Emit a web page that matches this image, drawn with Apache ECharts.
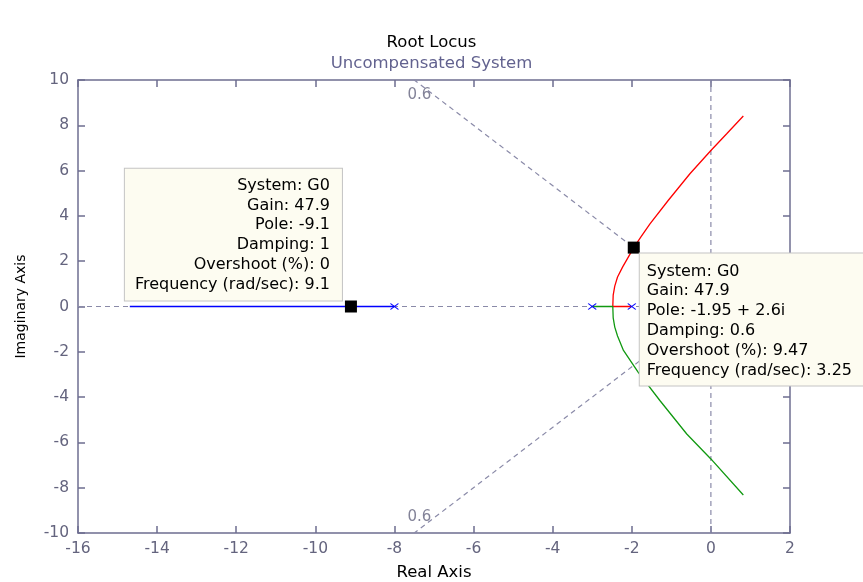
<!DOCTYPE html>
<html>
<head>
<meta charset="utf-8">
<script src="https://cdn.jsdelivr.net/npm/echarts@6/dist/echarts.min.js"></script>
<style>
  html, body { margin: 0; padding: 0; background: #ffffff; }
  #chart { width: 863px; height: 582px; }
</style>
</head>
<body>
<div id="chart"></div>
<script>
// Open-loop poles of G0
const poles = [-8, -3, -2];

// Root locus branches (real part, imaginary part)
const blueRe = [-8, -14.69];
const blueIm = [0, 0];
const redRe = [-2.02, -2.48, -2.47, -2.43, -2.36, -2.23, -1.95, -1.76, -1.54, -1.08, -0.53, 0.0, 0.40, 0.82];
const redIm = [0, 0, 0.5, 0.9, 1.3, 1.75, 2.6, 3.1, 3.65, 4.68, 5.86, 6.89, 7.63, 8.41];
const greenRe = [-3.0, -2.48, -2.47, -2.43, -2.36, -2.21, -1.84, -1.29, -0.61, 0.0, 0.82];
const greenIm = [0, 0, -0.5, -0.91, -1.3, -1.94, -2.9, -4.15, -5.63, -6.73, -8.32];

// sgrid lines: zeta = 0 (imag axis), zeta = 1 (neg. real axis), zeta = 0.6 rays
const zetaZeroLine = [[0, -10], [0, 10]];
const zetaOneLine = [[-16, 0], [0, 0]];
const zeta06Upper = [[0, 0], [-7.5, 10]];
const zeta06Lower = [[0, 0], [-7.5, -10]];
const zetaLabelText = ['0.6', '0.6'];
const zetaLabelAt = [[-7.37, 9.33], [-7.37, -9.28]];

// Data tips
const tipPoint = [[-9.1, 0], [-1.95, 2.6]];
const tipSystem = ['G0', 'G0'];
const tipGain = ['47.9', '47.9'];
const tipPole = ['-9.1', '-1.95 + 2.6i'];
const tipDamping = ['1', '0.6'];
const tipOvershoot = ['0', '9.47'];
const tipFrequency = ['9.1', '3.25'];

// Axis ticks
const xTicks = { min: -16, max: 2, step: 2 };
const yTicks = { min: -10, max: 10, step: 2 };

const FONT = 'DejaVu Sans';
const axisColor = '#6e6e90';
const tickTextColor = '#64647e';
const gridDash = '#8a8aa8';

function pairs(xs, ys) { return xs.map((x, i) => [x, ys[i]]); }

function tipText(i) {
  return [
    'System: ' + tipSystem[i],
    'Gain: ' + tipGain[i],
    'Pole: ' + tipPole[i],
    'Damping: ' + tipDamping[i],
    'Overshoot (%): ' + tipOvershoot[i],
    'Frequency (rad/sec): ' + tipFrequency[i]
  ].join('\n');
}

const tipLabelBase = {
  show: true,
  fontFamily: FONT,
  fontSize: 16,
  lineHeight: 19.8,
  color: '#000000',
  backgroundColor: '#fdfcf1',
  borderColor: '#c4c4c4',
  borderWidth: 1
};

function dashedSeries(points) {
  return {
    type: 'line', data: points, symbol: 'none', silent: true, z: 1,
    lineStyle: { color: gridDash, width: 1.2, type: [5, 4] }
  };
}

function axisPair(isX, t, withLabels, pos) {
  return {
    type: 'value', min: t.min, max: t.max, interval: t.step, position: pos,
    axisLine: { show: true, onZero: false, lineStyle: { color: axisColor, width: 1.5 } },
    axisTick: { show: true, inside: true, length: 7, lineStyle: { color: axisColor, width: 1.5 } },
    splitLine: { show: false },
    axisLabel: withLabels ? {
      show: true, fontFamily: FONT, fontSize: 15.5, color: tickTextColor,
      margin: isX ? 8 : 9
    } : { show: false }
  };
}

const chart = echarts.init(document.getElementById('chart'), null, { renderer: 'canvas' });

const xBottom = axisPair(true, xTicks, true, 'bottom');
xBottom.name = 'Real Axis';
xBottom.nameLocation = 'middle';
xBottom.nameGap = 31;
xBottom.nameTextStyle = { fontFamily: FONT, fontSize: 16.5, color: '#000000' };

const yLeft = axisPair(false, yTicks, true, 'left');
yLeft.name = 'Imaginary Axis';
yLeft.nameLocation = 'middle';
yLeft.nameGap = 50;
yLeft.nameTextStyle = { fontFamily: FONT, fontSize: 14, color: '#000000' };

chart.setOption({
  animation: false,
  backgroundColor: '#ffffff',
  title: {
    text: 'Root Locus',
    subtext: 'Uncompensated System',
    left: 'center',
    top: 29,
    itemGap: 4,
    textStyle: { fontFamily: FONT, fontSize: 16.5, fontWeight: 'normal', color: '#000000' },
    subtextStyle: { fontFamily: FONT, fontSize: 16.5, color: '#62628f' }
  },
  grid: { left: 78, right: 73, top: 80, bottom: 49, containLabel: false, outerBoundsMode: 'none' },
  xAxis: [xBottom, axisPair(true, xTicks, false, 'top')],
  yAxis: [yLeft, axisPair(false, yTicks, false, 'right')],
  series: [
    dashedSeries(zetaOneLine),
    dashedSeries(zetaZeroLine),
    dashedSeries(zeta06Upper),
    dashedSeries(zeta06Lower),
    {
      type: 'scatter', silent: true, z: 2, symbolSize: 0,
      data: zetaLabelAt.map((p, i) => ({ value: p, name: zetaLabelText[i] })),
      label: {
        show: true, position: 'inside', formatter: '{b}',
        fontFamily: FONT, fontSize: 15, color: tickTextColor
      }
    },
    {
      name: 'branch1', type: 'line', data: pairs(blueRe, blueIm), symbol: 'none', z: 3,
      lineStyle: { color: '#0000ff', width: 1.3 }
    },
    {
      name: 'branch2', type: 'line', data: pairs(redRe, redIm), symbol: 'none', z: 3,
      lineStyle: { color: '#ff0000', width: 1.3 }
    },
    {
      name: 'branch3', type: 'line', data: pairs(greenRe, greenIm), symbol: 'none', z: 3,
      lineStyle: { color: '#119911', width: 1.3 }
    },
    {
      name: 'poles', type: 'scatter', z: 4,
      data: poles.map(p => [p, 0]),
      symbol: 'path://M0,0L10,10M10,0L0,10',
      symbolSize: [8, 6],
      itemStyle: { color: 'none', borderColor: '#0000ff', borderWidth: 1.2, opacity: 1 }
    },
    {
      name: 'datatips', type: 'scatter', z: 10,
      symbol: 'rect', symbolSize: 12,
      itemStyle: { color: '#000000', opacity: 1 },
      data: [
        {
          value: tipPoint[0],
          label: Object.assign({}, tipLabelBase, {
            formatter: tipText(0), position: [-3, 0], align: 'right', verticalAlign: 'bottom',
            padding: [7, 12, 6, 10]
          })
        },
        {
          value: tipPoint[1],
          label: Object.assign({}, tipLabelBase, {
            formatter: tipText(1), position: [12, 12], align: 'left', verticalAlign: 'top',
            padding: [8, 12, 5, 7]
          })
        }
      ]
    }
  ]
});
</script>
</body>
</html>
